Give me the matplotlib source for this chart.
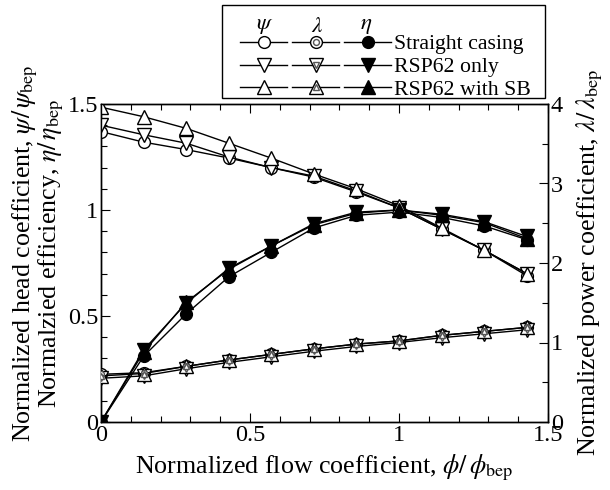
import matplotlib
matplotlib.use('Agg')
import matplotlib.pyplot as plt
from matplotlib.legend_handler import HandlerTuple
from matplotlib.patches import Rectangle
from matplotlib.ticker import MultipleLocator, FixedLocator, FixedFormatter

plt.rcParams['font.family'] = ['Liberation Serif', 'DejaVu Serif']
plt.rcParams['mathtext.fontset'] = 'stix'

# ---- data ----
phi = [0.0, 0.143, 0.286, 0.429, 0.571, 0.714, 0.857, 1.0, 1.143, 1.286, 1.429]

psi_sc = [1.37, 1.32, 1.285, 1.245, 1.20, 1.155, 1.085, 1.01, 0.91, 0.81, 0.69]
psi_rsp = [1.40, 1.355, 1.315, 1.25, 1.20, 1.16, 1.09, 1.01, 0.91, 0.81, 0.70]
psi_sb = [1.485, 1.44, 1.385, 1.315, 1.245, 1.17, 1.10, 1.02, 0.915, 0.81, 0.70]

eta_sc = [0.0, 0.31, 0.51, 0.685, 0.80, 0.915, 0.975, 0.99, 0.965, 0.925, 0.86]
eta_rsp = [0.0, 0.34, 0.56, 0.725, 0.83, 0.935, 0.99, 1.0, 0.98, 0.945, 0.875]
eta_sb = [0.0, 0.33, 0.565, 0.72, 0.83, 0.93, 0.985, 1.0, 0.975, 0.94, 0.865]

lam_sc = [0.60, 0.62, 0.70, 0.78, 0.85, 0.92, 0.98, 1.02, 1.09, 1.14, 1.19]
lam_rsp = [0.55, 0.58, 0.67, 0.75, 0.82, 0.89, 0.95, 1.00, 1.06, 1.11, 1.16]
lam_sb = [0.58, 0.61, 0.70, 0.78, 0.85, 0.92, 0.98, 1.02, 1.09, 1.14, 1.19]

case_labels = ['Straight casing', 'RSP62 only', 'RSP62 with SB']
col_headers = [r'$\psi$', r'$\lambda$', r'$\eta$']

xticks = [0, 0.5, 1, 1.5]
xtick_labels = ['0', '0.5', '1', '1.5']
yticks = [0, 0.5, 1, 1.5]
ytick_labels = ['0', '0.5', '1', '1.5']
y2ticks = [0, 1, 2, 3, 4]
y2tick_labels = ['0', '1', '2', '3', '4']

# ---- figure ----
W, H = 610, 490
FS_TICK = 17.5
FS_LAB = 18.7
FS_LEG = 15.7
fig = plt.figure(figsize=(6.1, 4.9), dpi=100)
ax = fig.add_axes([101 / W, 68 / H, 447 / W, 318 / H])
ax2 = ax.twinx()

series = [
    ('o', 8.5, psi_sc, lam_sc, eta_sc),
    ('v', 9.5, psi_rsp, lam_rsp, eta_rsp),
    ('^', 9.5, psi_sb, lam_sb, eta_sb),
]

psi_h, lam_h, eta_h = [], [], []
for m, ms, psi, lam, eta in series:
    h1, = ax.plot(phi, psi, color='k', lw=1, marker=m, ms=ms,
                  mfc='white', mec='k', mew=1, zorder=3)
    h3, = ax.plot(phi, eta, color='k', lw=1, marker=m, ms=ms,
                  mfc='k', mec='k', mew=1, zorder=3)
    h2a, = ax2.plot(phi, lam, color='k', lw=1, marker=m, ms=ms,
                    mfc='white', mec='k', mew=1, zorder=3)
    h2b, = ax2.plot(phi, lam, ls='none', marker=m, ms=ms * 0.5,
                    mfc='white', mec='#555555', mew=1, zorder=4)
    psi_h.append(h1)
    lam_h.append((h2a, h2b))
    eta_h.append(h3)

ax.set_xlim(0, 1.5)
ax.set_ylim(0, 1.5)
ax2.set_ylim(0, 4)

ax.xaxis.set_major_locator(FixedLocator(xticks))
ax.xaxis.set_major_formatter(FixedFormatter(xtick_labels))
ax.xaxis.set_minor_locator(MultipleLocator(0.1))
ax.yaxis.set_major_locator(FixedLocator(yticks))
ax.yaxis.set_major_formatter(FixedFormatter(ytick_labels))
ax.yaxis.set_minor_locator(MultipleLocator(0.1))
ax2.yaxis.set_major_locator(FixedLocator(y2ticks))
ax2.yaxis.set_major_formatter(FixedFormatter(y2tick_labels))
ax2.yaxis.set_minor_locator(MultipleLocator(0.5))

ax.tick_params(which='both', direction='in', top=True, right=False, labelsize=FS_TICK)
ax.tick_params(which='major', length=6.5, width=0.8, pad=2)
ax.tick_params(which='minor', length=4.3, width=0.8)
ax2.tick_params(which='both', direction='in', labelsize=FS_TICK)
ax2.tick_params(which='major', length=6.5, width=0.8, pad=2)
ax2.tick_params(which='minor', length=4.3, width=0.8)
for a in (ax, ax2):
    for s in a.spines.values():
        s.set_linewidth(1.0)

ax.set_xlabel(r'Normalized flow coefficient, $\phi/\,\phi_{\rm bep}$', fontsize=FS_LAB, labelpad=5)
ax.set_ylabel('Normalized head coefficient, $\\psi/\\,\\psi_{\\rm bep}$\n'
              'Normalzied efficiency, $\\eta/\\,\\eta_{\\rm bep}$',
              fontsize=FS_LAB, labelpad=4, linespacing=0.85, multialignment='center')
ax.yaxis.set_label_coords(-0.078, 0.53)
ax2.set_ylabel(r'Normalized power coefficient, $\lambda/\,\lambda_{\rm bep}$', fontsize=FS_LAB, labelpad=8)

# legend (frame drawn separately so the padding can follow the reference)
handles = psi_h + lam_h + eta_h
labels = ['', '', '', '', '', ''] + case_labels
em = FS_LEG * 100 / 72
leg = fig.legend(handles, labels, ncol=3, loc='upper left',
                 bbox_to_anchor=(240 / W, 1 - 34 / H),
                 handler_map={tuple: HandlerTuple(ndivide=1, pad=0)},
                 fontsize=FS_LEG, frameon=False,
                 handlelength=47 / em, handletextpad=0.15,
                 columnspacing=0.08, labelspacing=0.12, borderpad=0,
                 borderaxespad=0)
fig.add_artist(Rectangle((222 / W, 1 - 98 / H), 323 / W, 93 / H,
                         transform=fig.transFigure, fill=False,
                         ec='k', lw=1.0))

for hx, t in zip([265, 317, 366], col_headers):
    fig.text(hx / W, 1 - 26 / H, t, fontsize=FS_LEG + 1, ha='center', va='center')

fig.savefig('out.png', dpi=100)
